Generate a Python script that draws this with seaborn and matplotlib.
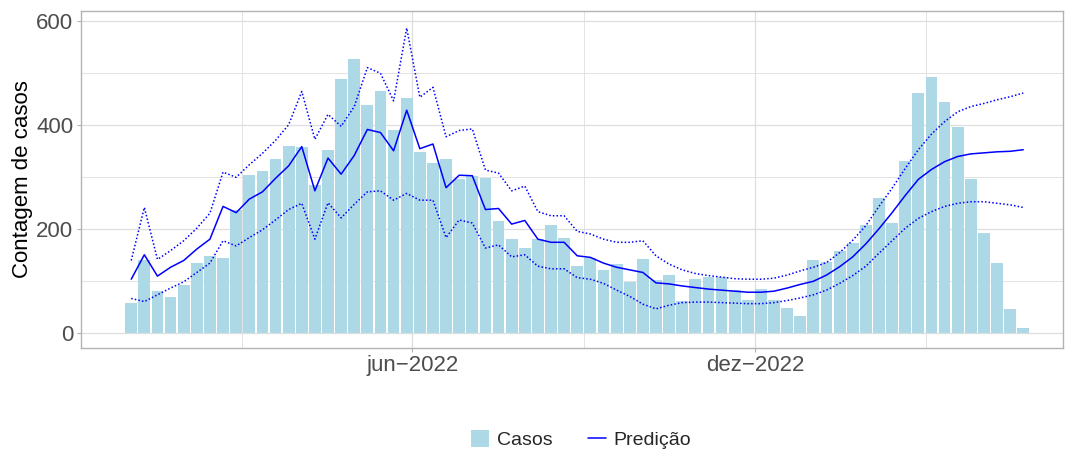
import matplotlib
matplotlib.use("Agg")
import numpy as np
import pandas as pd
import matplotlib.pyplot as plt
import matplotlib.dates as mdates
from matplotlib.ticker import FixedLocator
from matplotlib.patches import Patch
from matplotlib.lines import Line2D
import seaborn as sns

# ---------------- data ----------------
start_date = "2022-01-02"
casos = [58, 141, 81, 69, 93, 135, 149, 144, 237, 305,
         312, 335, 360, 359, 286, 353, 489, 528, 439, 466,
         391, 453, 349, 328, 335, 297, 303, 299, 216, 181,
         164, 181, 208, 183, 129, 144, 122, 133, 99, 143,
         103, 112, 62, 104, 108, 108, 83, 64, 85, 64,
         49, 33, 141, 137, 158, 174, 208, 260, 212, 331,
         462, 493, 445, 397, 297, 193, 135, 47, 10]
predicao = [104, 151, 110, 127, 140, 162, 181, 244, 232, 258,
            272, 298, 322, 359, 274, 337, 306, 342, 392, 386,
            351, 429, 355, 364, 280, 304, 303, 238, 240, 210,
            217, 181, 175, 175, 149, 146, 135, 127, 122, 117,
            97, 95, 91, 88, 85, 83, 81, 79, 79, 81,
            87, 94, 100, 112, 128, 147, 172, 201, 232, 265,
            296, 315, 330, 340, 345, 347, 349, 350, 353]
limite_sup = [140, 242, 142, 159, 178, 202, 231, 310, 300, 324,
              346, 371, 401, 465, 373, 421, 398, 436, 511, 500,
              447, 587, 454, 473, 378, 390, 393, 314, 308, 274,
              283, 234, 226, 226, 196, 191, 181, 175, 175, 178,
              149, 133, 122, 115, 111, 108, 105, 104, 104, 106,
              112, 120, 127, 136, 155, 179, 207, 244, 279, 317,
              353, 383, 407, 426, 436, 442, 449, 455, 462]
limite_inf = [67, 61, 74, 87, 99, 117, 135, 178, 168, 184,
              199, 218, 238, 250, 181, 251, 222, 248, 272, 274,
              256, 269, 256, 256, 184, 218, 212, 164, 170, 147,
              151, 129, 124, 124, 107, 104, 96, 83, 71, 56,
              47, 54, 59, 60, 60, 59, 58, 57, 57, 59,
              63, 68, 74, 83, 96, 111, 129, 154, 178, 202,
              221, 234, 244, 250, 253, 253, 250, 247, 242]
x_breaks = ["2022-06-01", "2022-12-01"]
x_labels = ["jun\u22122022", "dez\u22122022"]
x_all_breaks = ["2021-12-01", "2022-06-01", "2022-12-01", "2023-06-01"]
y_breaks = [0, 200, 400, 600]
y_minor = [100, 300, 500]

# ---------------- style ----------------
sns.set_theme(style="white")
plt.rcParams['font.family'] = ['Liberation Sans', 'DejaVu Sans']

datas = pd.date_range(start_date, periods=len(casos), freq="7D")
df = pd.DataFrame({
    "data": mdates.date2num(datas.to_pydatetime()),
    "casos": casos,
    "pred": predicao,
    "sup": limite_sup,
    "inf": limite_inf,
})

W, H = 1065, 449
L, R, T, B = 81, 1063, 11, 347.7
fig = plt.figure(figsize=(W / 100, H / 100), dpi=100)
ax = fig.add_axes([L / W, 1 - B / H, (R - L) / W, (B - T) / H])
ax.set_axisbelow(True)

sns.barplot(data=df, x="data", y="casos", native_scale=True, width=0.9,
            color="#ADD8E6", saturation=1, errorbar=None, linewidth=0,
            ax=ax, zorder=2)
dot = (0, (1, 1.4))
sns.lineplot(data=df, x="data", y="sup", color="blue", lw=1.1,
             linestyle=dot, ax=ax, legend=False, zorder=3)
sns.lineplot(data=df, x="data", y="inf", color="blue", lw=1.1,
             linestyle=dot, ax=ax, legend=False, zorder=3)
sns.lineplot(data=df, x="data", y="pred", color="blue", lw=1.1,
             ax=ax, legend=False, zorder=4)

# axes limits (pixel-calibrated)
jun = mdates.date2num(pd.Timestamp("2022-06-01").to_pydatetime())
ax.set_xlim(jun - 176.8, jun + 347.2)
ax.set_ylim(-27.7, 619.8)

maj = [mdates.date2num(pd.Timestamp(d).to_pydatetime()) for d in x_breaks]
allb = [mdates.date2num(pd.Timestamp(d).to_pydatetime()) for d in x_all_breaks]
mins = [(allb[i] + allb[i + 1]) / 2 for i in range(len(allb) - 1)]
ax.xaxis.set_major_locator(FixedLocator(maj))
ax.set_xticklabels(x_labels)
ax.xaxis.set_minor_locator(FixedLocator(mins))
ax.yaxis.set_major_locator(FixedLocator(y_breaks))
ax.set_yticklabels([str(v) for v in y_breaks])
ax.yaxis.set_minor_locator(FixedLocator(y_minor))

ax.grid(which="major", color="#DEDEDE", lw=0.9)
ax.grid(which="minor", color="#E3E3E3", lw=0.7)

for s in ax.spines.values():
    s.set_visible(True)
    s.set_color("#B3B3B3")
    s.set_linewidth(1.0)

ax.tick_params(which="major", length=3, width=0.8, color="#B3B3B3",
               labelcolor="#4D4D4D", labelsize=16, pad=2.5,
               bottom=True, left=True)
ax.tick_params(which="minor", length=0)

ax.set_xlabel("")
ax.set_ylabel("Contagem de casos", fontsize=16, color="black")
ax.yaxis.set_label_coords((33 - L) / (R - L), 0.5)

handles = [Patch(facecolor="#ADD8E6", edgecolor="none"),
           Line2D([], [], color="blue", lw=1.1)]
fig.legend(handles=handles, labels=["Casos", "Predi\u00e7\u00e3o"],
           loc="center", bbox_to_anchor=(581 / W, 1 - 439.5 / H),
           ncol=2, frameon=False, fontsize=14, handlelength=0.95,
           handleheight=0.95, handletextpad=0.4, columnspacing=1.8,
           borderpad=0.0, borderaxespad=0.0)

fig.savefig("out.png", dpi=100)
